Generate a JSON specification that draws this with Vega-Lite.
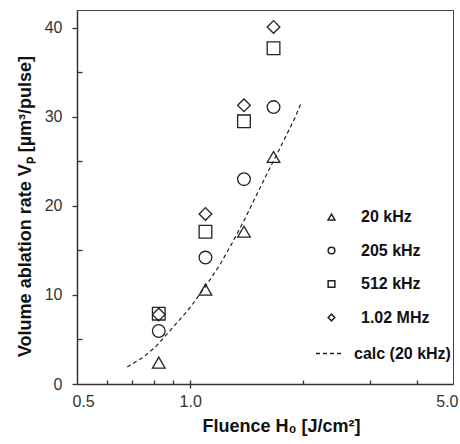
{
  "$schema": "https://vega.github.io/schema/vega-lite/v6.json",
  "width": 376,
  "height": 374,
  "autosize": "none",
  "padding": {"left": 77, "top": 10, "right": 7, "bottom": 60},
  "background": "white",
  "config": {
    "font": "Liberation Sans",
    "view": {"stroke": "#444", "strokeWidth": 1},
    "axis": {"grid": false, "labelFlush": false, "domainColor": "#333", "domainWidth": 1.5, "tickColor": "#333", "tickWidth": 1.3, "labelColor": "#333", "labelFontSize": 16, "labelFont": "Liberation Sans", "titleFont": "Liberation Sans", "titleFontSize": 18, "titleFontWeight": "bold", "titleColor": "#111"},
    "legend": {"padding": 0, "labelFont": "Liberation Sans"}
  },
  "datasets": {
    "pts": [
      {"H": 0.825, "V": 2.4, "f": "20 kHz"},
      {"H": 1.098, "V": 10.6, "f": "20 kHz"},
      {"H": 1.39, "V": 17.1, "f": "20 kHz"},
      {"H": 1.666, "V": 25.5, "f": "20 kHz"},
      {"H": 0.825, "V": 5.95, "f": "205 kHz"},
      {"H": 1.098, "V": 14.2, "f": "205 kHz"},
      {"H": 1.39, "V": 23.0, "f": "205 kHz"},
      {"H": 1.666, "V": 31.1, "f": "205 kHz"},
      {"H": 0.825, "V": 7.9, "f": "512 kHz"},
      {"H": 1.098, "V": 17.1, "f": "512 kHz"},
      {"H": 1.39, "V": 29.5, "f": "512 kHz"},
      {"H": 1.666, "V": 37.7, "f": "512 kHz"},
      {"H": 0.825, "V": 7.8, "f": "1.02 MHz"},
      {"H": 1.098, "V": 19.1, "f": "1.02 MHz"},
      {"H": 1.39, "V": 31.3, "f": "1.02 MHz"},
      {"H": 1.666, "V": 40.1, "f": "1.02 MHz"}
    ],
    "calc": [
      {"H": 0.68, "V": 1.9, "series": "calc (20 kHz)"},
      {"H": 0.75, "V": 3.0, "series": "calc (20 kHz)"},
      {"H": 0.81, "V": 4.2, "series": "calc (20 kHz)"},
      {"H": 0.88, "V": 5.9, "series": "calc (20 kHz)"},
      {"H": 0.95, "V": 7.5, "series": "calc (20 kHz)"},
      {"H": 1.0, "V": 8.6, "series": "calc (20 kHz)"},
      {"H": 1.1, "V": 11.0, "series": "calc (20 kHz)"},
      {"H": 1.2, "V": 13.4, "series": "calc (20 kHz)"},
      {"H": 1.3, "V": 16.0, "series": "calc (20 kHz)"},
      {"H": 1.4, "V": 18.6, "series": "calc (20 kHz)"},
      {"H": 1.5, "V": 21.2, "series": "calc (20 kHz)"},
      {"H": 1.6, "V": 23.6, "series": "calc (20 kHz)"},
      {"H": 1.7, "V": 25.8, "series": "calc (20 kHz)"},
      {"H": 1.8, "V": 27.9, "series": "calc (20 kHz)"},
      {"H": 1.9, "V": 29.9, "series": "calc (20 kHz)"},
      {"H": 1.97, "V": 31.5, "series": "calc (20 kHz)"}
    ]
  },
  "resolve": {"axis": {"x": "independent", "y": "independent"}},
  "layer": [
    {
      "data": {"name": "calc"},
      "mark": {"type": "line", "stroke": "#222", "strokeWidth": 1.2},
      "encoding": {
        "x": {"field": "H", "type": "quantitative", "scale": {"type": "log", "domain": [0.5, 5]},
          "axis": {"orient": "bottom", "values": [0.5, 1, 5], "format": ".1f", "ticks": true, "tickSize": 4, "labelPadding": 5,
            "labelFlush": true, "labelFlushOffset": 5,
            "tickColor": {"condition": {"test": "datum.value == 1", "value": "#333"}, "value": "transparent"},
            "title": "Fluence H₀ [J/cm²]", "titlePadding": 8, "titleX": 204}},
        "y": {"field": "V", "type": "quantitative", "scale": {"domain": [0, 42]},
          "axis": {"orient": "left", "values": [0, 10, 20, 30, 40], "ticks": true, "tickSize": 5, "labelPadding": 10,
            "title": "Volume ablation rate Vₚ [µm³/pulse]", "titlePadding": 10, "titleY": 196}},
        "strokeDash": {"field": "series", "type": "nominal", "scale": {"range": [[4, 3]]},
          "legend": {"orient": "none", "legendX": 238, "legendY": 329, "title": null, "symbolType": "stroke", "symbolSize": 729, "symbolStrokeColor": "#222", "symbolStrokeWidth": 1.3, "labelFontSize": 16, "labelFontWeight": "bold", "labelColor": "#111", "labelOffset": 10}}
      }
    },
    {
      "data": {"name": "pts"},
      "mark": {"type": "point", "filled": false, "stroke": "#222", "strokeWidth": 1.3, "size": 160, "opacity": 1},
      "encoding": {
        "x": {"field": "H", "type": "quantitative", "scale": {"type": "log", "domain": [0.5, 5]},
          "axis": {"orient": "bottom", "values": [0.6, 0.7, 0.8, 0.9, 1, 2, 3, 4], "ticks": true, "tickSize": 4, "offset": -4, "tickColor": "#333", "labels": false, "domain": false, "title": null}},
        "y": {"field": "V", "type": "quantitative", "scale": {"domain": [0, 42]},
          "axis": {"orient": "left", "values": [5, 15, 25, 35], "ticks": true, "tickSize": 5, "offset": -5, "tickColor": "#333", "labels": false, "domain": false, "title": null}},
        "shape": {"field": "f", "type": "nominal",
          "scale": {"domain": ["20 kHz", "205 kHz", "512 kHz", "1.02 MHz"], "range": ["triangle-up", "circle", "square", "diamond"]},
          "legend": {"orient": "none", "legendX": 246.5, "legendY": 199, "title": null, "symbolSize": 45, "symbolStrokeColor": "#222", "symbolStrokeWidth": 1.5, "labelFontSize": 16, "labelFontWeight": "bold", "labelColor": "#111", "labelOffset": 21.5, "rowPadding": 17.5}}
      }
    }
  ]
}
